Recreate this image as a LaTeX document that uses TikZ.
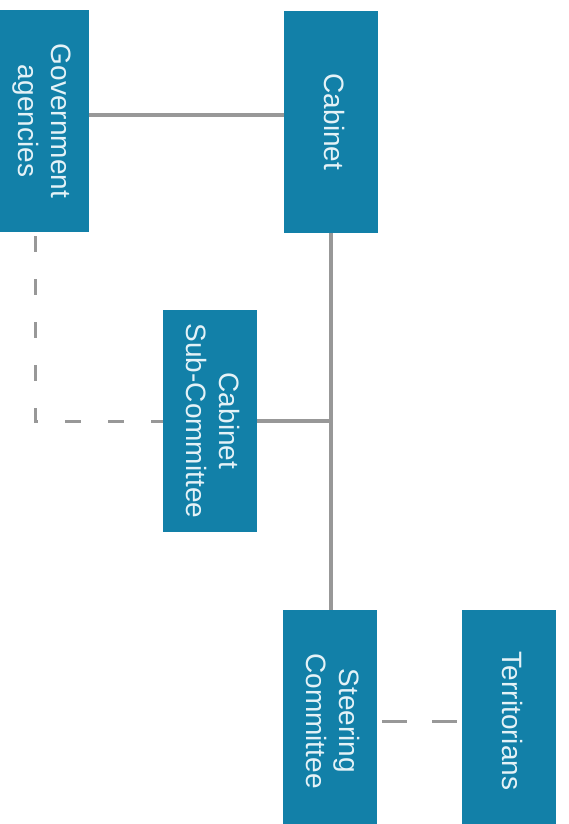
\documentclass[tikz,border=0pt]{standalone}
\usepackage{fontspec}
\setmainfont{Liberation Sans}
\usepackage{graphicx}
\definecolor{boxteal}{RGB}{18,128,168}
\definecolor{boxtext}{RGB}{228,242,247}
\definecolor{linegrey}{RGB}{152,152,152}
\newcommand{\vlabel}[1]{\rotatebox{-90}{\begin{tabular}{@{}c@{}}#1\end{tabular}}}
\begin{document}
\begin{tikzpicture}[x=1pt,y=-1pt,
  orgbox/.style={draw=none,fill=boxteal,text=boxtext,minimum width=94pt,minimum height=222pt,inner sep=0pt,
    font=\fontsize{28}{33}\selectfont},
  solidlink/.style={draw=linegrey,line width=3.2pt},
  dashlink/.style={draw=linegrey,line width=3pt}]
\useasboundingbox (0,0) rectangle (568,824);
\clip (0,0) rectangle (568,824);
\node[orgbox] (gov) at (42,121) {\vlabel{Government\\agencies}};
\node[orgbox] (cab) at (331,122) {\vlabel{Cabinet}};
\node[orgbox] (sub) at (210,421) {\vlabel{Cabinet\\Sub-Committee}};
\node[orgbox] (steer) at (330,721) {\vlabel{Steering\\Committee}};
\node[orgbox] (terr) at (509,721) {\vlabel{Territorians}};
\coordinate (gc) at ([xshift=-7pt]gov.south);
\coordinate (corner) at (gc |- sub.west);
\coordinate (junc) at (cab.south |- sub.east);
\draw[solidlink] ([yshift=6pt]gov.east) -- ([yshift=6pt]gov.east -| cab.west);
\draw[solidlink] (cab.south) -- (cab.south |- steer.north);
\draw[solidlink] (sub.east) -- (junc);
\draw[dashlink,dash pattern=on 16pt off 27pt,dash phase=39pt] (gc) -- (corner) -- (sub.west);
\draw[dashlink,dash pattern=on 25pt off 25pt,dash phase=45pt] (steer.east) -- (terr.west);
\end{tikzpicture}
\end{document}
